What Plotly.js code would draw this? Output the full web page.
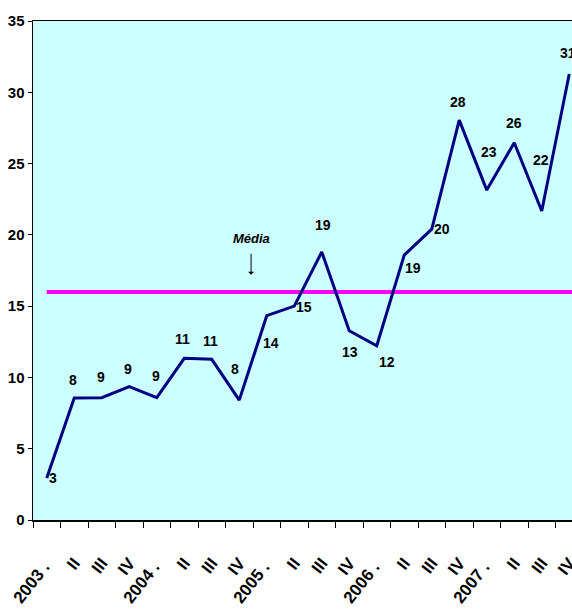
<!DOCTYPE html>
<html>
<head>
<meta charset="utf-8">
<script src="https://cdn.plot.ly/plotly-3.0.1.min.js"></script>
<style>
html,body{margin:0;padding:0;overflow:hidden;background:#fff;}
#chart{width:583px;height:614px;}
</style>
</head>
<body>
<div id="chart"></div>
<script>
// ---- data ----
const categories = ["2003 I","2003 II","2003 III","2003 IV","2004 I","2004 II","2004 III","2004 IV",
  "2005 I","2005 II","2005 III","2005 IV","2006 I","2006 II","2006 III","2006 IV",
  "2007 I","2007 II","2007 III","2007 IV"];
const tickLabels = ["2003 .\u00a0","II","III","IV","2004 .\u00a0","II","III","IV",
  "2005 .\u00a0","II","III","IV","2006 .\u00a0","II","III","IV",
  "2007 .\u00a0","II","III","IV"];
const values = [2.95, 8.55, 8.58, 9.35, 8.58, 11.34, 11.27, 8.41, 14.33, 15.0,
  18.8, 13.27, 12.22, 18.58, 20.4, 28.05, 23.14, 26.46, 21.67, 31.28];
const valueLabels = ["3","8","9","9","9","11","11","8","14","15",
  "19","13","12","19","20","28","23","26","22","31"];
const media = 16;
const mediaLabel = "Média";

// ---- styling (label offsets in px) ----
const labelDx = [6,-1,-1,-1,-1,-2,-1,-4,4,10,1,1,10,9,10,-1,2,0,-1,-1];
const labelDy = [0,-18,-21,-18,-22,-19,-18,-31,27,1,-27,21,16,13,0,-18,-38,-20,-51,-21];

const FONT = "'Liberation Sans Narrow','Arial Narrow','Liberation Sans',Arial,sans-serif";
const xs = categories.map((c, i) => i);

const trace = {
  x: xs, y: values, type: 'scatter', mode: 'lines',
  line: {color: '#000080', width: 3},
  hoverinfo: 'skip', showlegend: false
};

function f(size) { return {family: FONT, size: size, color: '#000', weight: 'bold'}; }

const annotations = values.map((v, i) => ({
  x: xs[i], y: v, xref: 'x', yref: 'y', text: valueLabels[i], showarrow: false,
  xshift: labelDx[i], yshift: -labelDy[i],
  font: f(14)
}));
annotations.push({
  x: 7.43, y: 17.2, xref: 'x', yref: 'y', text: '<i>' + mediaLabel + '</i>',
  showarrow: true, ax: 0, ay: -36, arrowhead: 1, arrowsize: 1, arrowwidth: 1,
  arrowcolor: '#000', startstandoff: 6,
  font: f(13)
});

const layout = {
  width: 583, height: 614,
  margin: {l: 33, r: 0, t: 21, b: 94, pad: 0},
  paper_bgcolor: '#ffffff', plot_bgcolor: '#CCFFFF',
  showlegend: false,
  font: f(14),
  xaxis: {
    range: [-0.5, categories.length - 0.5],
    tickmode: 'array', tickvals: xs, ticktext: tickLabels,
    tickangle: -52, ticks: '', ticklabelstandoff: 25,
    showline: true, linecolor: '#000', linewidth: 1.5, mirror: true,
    showgrid: false, zeroline: false,
    tickfont: f(17),
    minor: {tick0: -0.5, dtick: 1, ticks: 'outside', ticklen: 6, tickcolor: '#000', tickwidth: 1, showgrid: false}
  },
  yaxis: {
    range: [0, 35], dtick: 5, tick0: 0,
    ticks: 'outside', ticklen: 4, tickcolor: '#000',
    showline: true, linecolor: '#000', linewidth: 1.5, mirror: true,
    showgrid: false, zeroline: false,
    tickfont: f(15)
  },
  shapes: [{
    type: 'line', xref: 'x', yref: 'y', x0: 0, x1: categories.length - 0.5, y0: media, y1: media,
    line: {color: '#FF00FF', width: 4}, layer: 'below'
  }],
  annotations: annotations
};

Plotly.newPlot('chart', [trace], layout, {displayModeBar: false, staticPlot: true});
</script>
</body>
</html>
